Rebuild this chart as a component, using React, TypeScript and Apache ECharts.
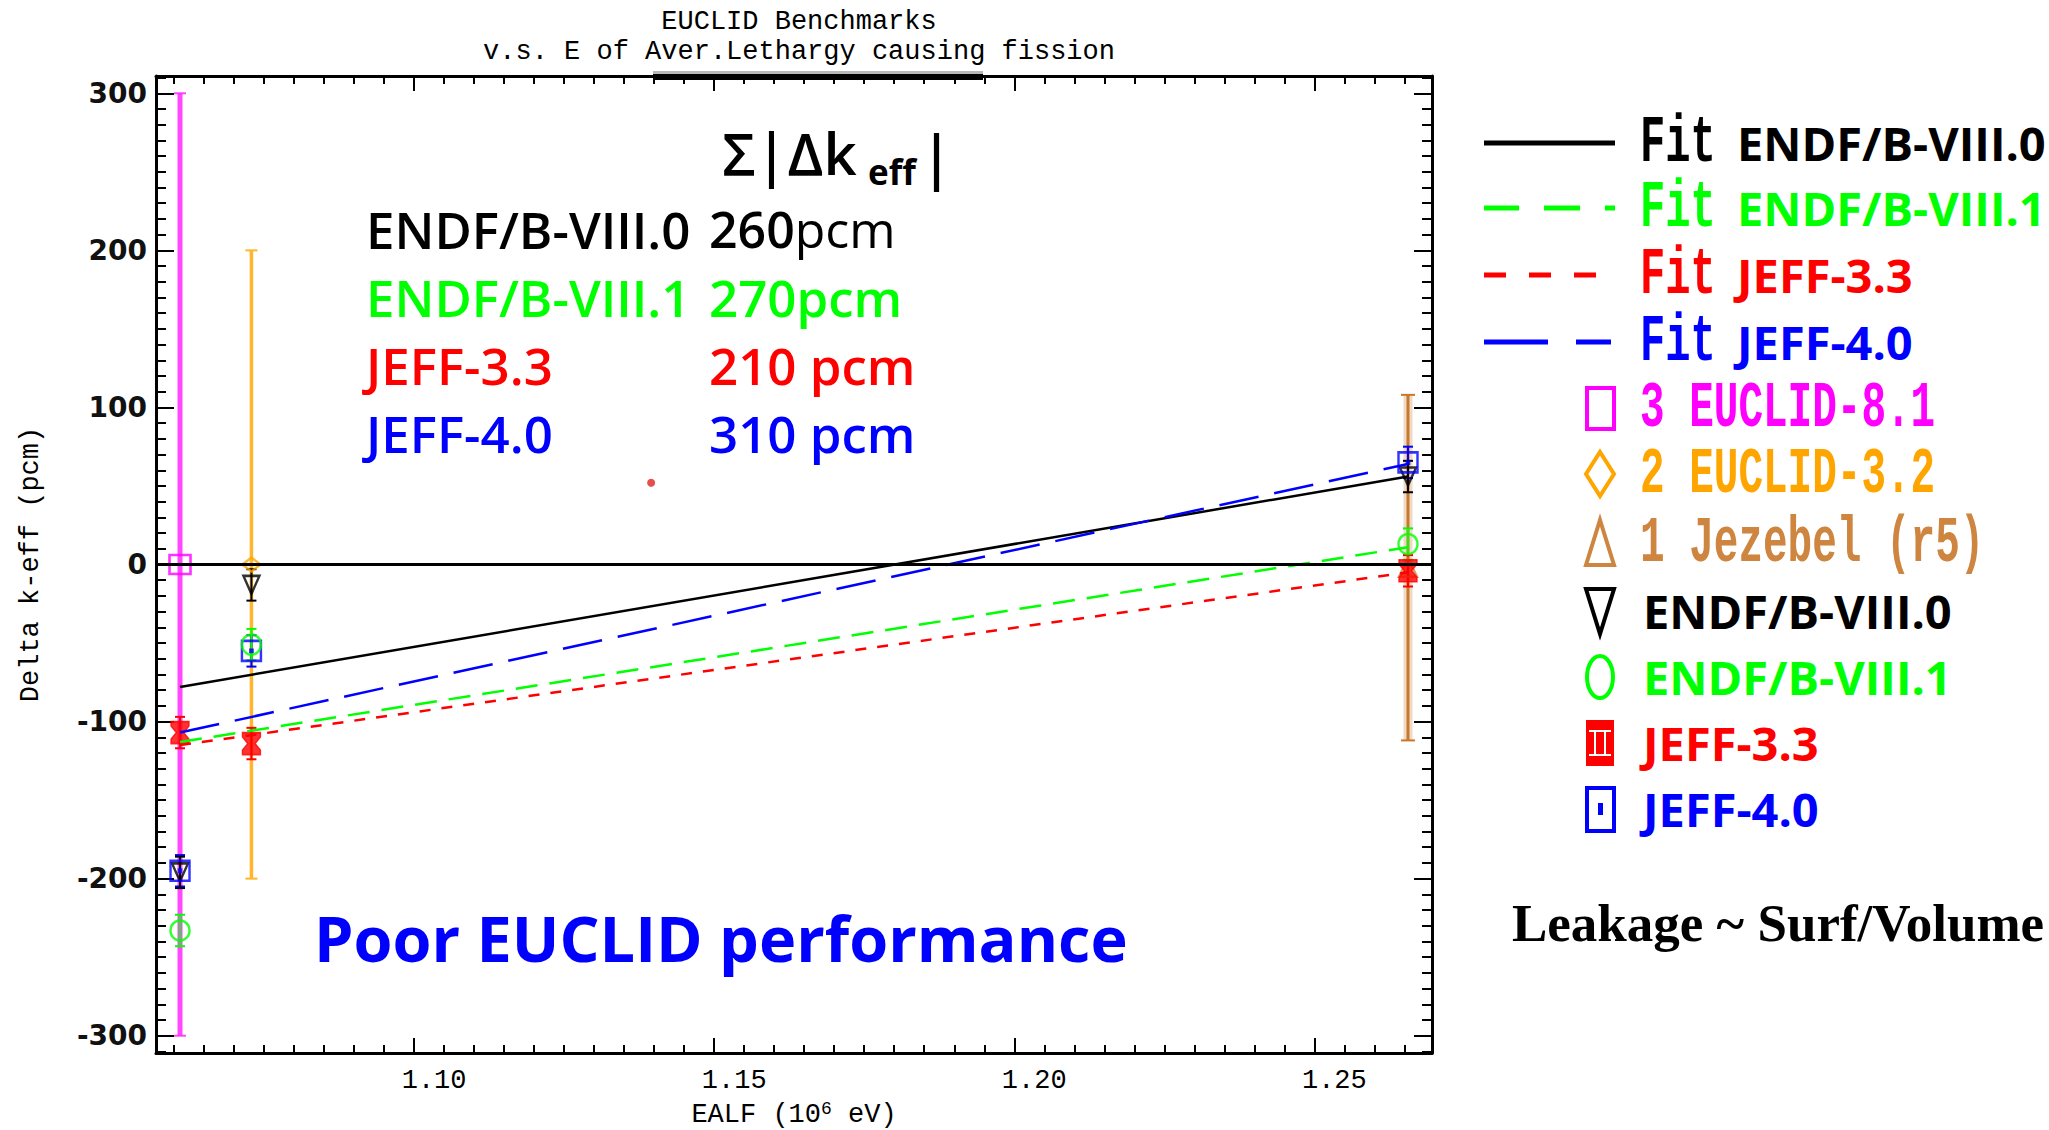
import React, { useEffect, useRef } from 'react';
import * as echarts from 'echarts';

// ---------------- data ----------------
const libNames = ['ENDF/B-VIII.0', 'ENDF/B-VIII.1', 'JEFF-3.3', 'JEFF-4.0'];
const benchNames = ['3 EUCLID-8.1', '2 EUCLID-3.2', '1 Jezebel (r5)'];
const benchEalf = [1.061, 1.0729, 1.2656];
const benchDelta = [0, 0, -2];
const benchUnc = [300, 200, 110];
const endf80Delta = [-196, -13, 56];
const endf81Delta = [-233, -51, 13];
const jeff33Delta = [-107, -114, -4];
const jeff40Delta = [-195, -55, 65];
const libUnc = [10, 10, 10];
const fitEalf = [1.061, 1.2656];
const fitEndf80 = [-78, 56];
const fitEndf81 = [-113, 11];
const fitJeff33 = [-115, -5];
const fitJeff40 = [-107, 64];
const strayPoint = [1.1395, 52];
const sumAbsDk = ['260pcm', '270pcm', '210 pcm', '310 pcm'];
const xTickValues = [1.1, 1.15, 1.2, 1.25];
const yTickValues = [-300, -200, -100, 0, 100, 200, 300];

// ---------------- axis extents / styles ----------------
const X_MIN = 1.057;
const X_MAX = 1.2696;
const Y_MIN = -311;
const Y_MAX = 311;

const xMinor: number[] = [];
for (let k = 212; k <= 253; k++) if (k % 10 !== 0) xMinor.push(+(k * 0.005).toFixed(3));
const yMinor: number[] = [];
for (let k = -31; k <= 31; k++) if (k % 10 !== 0) yMinor.push(k * 10);

const libColors = ['#000000', '#00ff00', '#ff0000', '#0000ff'];
const benchColors = ['#ff00ff', '#ffa500', '#cd853f'];
const MONO = 'Liberation Mono';
const SANS = 'Open Sans';

function pairs(xs: number[], ys: number[]) {
  return xs.map((x, i) => [x, ys[i]]);
}

function errorBars(name: string, xs: number[], ys: number[], errs: number[], color: string, width: number, capHalf: number, halo?: { color: string; width: number }) {
  return {
    type: 'custom',
    name,
    silent: true,
    data: xs.map((x, i) => [x, ys[i] - errs[i], ys[i] + errs[i]]),
    encode: { x: 0, y: [1, 2] },
    renderItem: (params: any, api: any) => {
      const x = api.value(0);
      const lo = api.coord([x, api.value(1)]);
      const hi = api.coord([x, api.value(2)]);
      const children: any[] = [];
      if (halo) {
        children.push({ type: 'line', shape: { x1: lo[0], y1: lo[1], x2: hi[0], y2: hi[1] }, style: { stroke: halo.color, lineWidth: halo.width } });
      }
      children.push({ type: 'line', shape: { x1: lo[0], y1: lo[1], x2: hi[0], y2: hi[1] }, style: { stroke: color, lineWidth: width } });
      children.push({ type: 'line', shape: { x1: hi[0] - capHalf, y1: hi[1], x2: hi[0] + capHalf, y2: hi[1] }, style: { stroke: color, lineWidth: 2 } });
      children.push({ type: 'line', shape: { x1: lo[0] - capHalf, y1: lo[1], x2: lo[0] + capHalf, y2: lo[1] }, style: { stroke: color, lineWidth: 2 } });
      return { type: 'group', children };
    },
  };
}

function fitLine(name: string, ys: number[], color: string, type: any, width: number, extra: any = {}) {
  return {
    type: 'line',
    name,
    silent: true,
    data: pairs(fitEalf, ys),
    showSymbol: false,
    symbol: 'none',
    lineStyle: { color, width, type },
    ...extra,
  };
}

const HOURGLASS = 'path://M0,0L10,0L10,2L7,5L10,8L10,10L0,10L0,8L3,5L0,2Z';
const SQDOT = 'path://M0,0L10,0L10,10L0,10Z M4.4,4.4L5.6,4.4L5.6,5.6L4.4,5.6Z';
const DOWNTRI = 'path://M0,0L10,0L5,10Z';

function xAxisDef(position: 'top' | 'bottom', ticks: number[], len: number, main: boolean) {
  return {
    type: 'value',
    position,
    min: X_MIN,
    max: X_MAX,
    axisLine: { show: main, onZero: false, lineStyle: { color: '#000', width: 3 } },
    axisTick: { show: true, inside: true, length: len, customValues: ticks, lineStyle: { color: '#000', width: 2 } },
    axisLabel: main && position === 'bottom'
      ? { show: true, customValues: xTickValues, formatter: (v: number) => v.toFixed(2), fontFamily: MONO, fontSize: 27, color: '#000', margin: 14, padding: [0, 0, 0, 40] }
      : { show: false },
    splitLine: { show: false },
    ...(main && position === 'bottom'
      ? {
          name: 'EALF (10{sup|6} eV)',
          nameLocation: 'middle',
          nameGap: 47,
          nameTextStyle: { fontFamily: MONO, fontSize: 27, color: '#000', rich: { sup: { fontFamily: MONO, fontSize: 18, color: '#000', verticalAlign: 'top', padding: [0, 0, 12, 0] } } },
        }
      : {}),
  };
}

function yAxisDef(position: 'left' | 'right', ticks: number[], len: number, main: boolean) {
  return {
    type: 'value',
    position,
    min: Y_MIN,
    max: Y_MAX,
    axisLine: { show: main, onZero: false, lineStyle: { color: '#000', width: 3 } },
    axisTick: { show: true, inside: true, length: len, customValues: ticks, lineStyle: { color: '#000', width: 2 } },
    axisLabel: main && position === 'left'
      ? { show: true, customValues: yTickValues, fontFamily: 'DejaVu Sans', fontWeight: 'bold', fontSize: 28, color: '#111', margin: 9 }
      : { show: false },
    splitLine: { show: false },
    ...(main && position === 'left'
      ? { name: 'Delta k-eff (pcm)', nameLocation: 'middle', nameRotate: 90, nameGap: 112, nameTextStyle: { fontFamily: MONO, fontSize: 27, color: '#000' } }
      : {}),
  };
}

function txt(x: number, y: number, text: string, fill: string, fontSize: number, fontFamily: string, fontWeight: any = 'normal', extra: any = {}, lineHeight?: number) {
  return {
    type: 'text',
    x,
    y,
    silent: true,
    ...extra,
    style: {
      x: 0,
      y: 0,
      text,
      fill,
      fontSize,
      fontFamily,
      fontWeight,
      lineHeight: lineHeight || Math.round(fontSize * 1.2),
      align: 'left',
      textAlign: 'left',
      verticalAlign: 'middle',
      textVerticalAlign: 'middle',
    },
  };
}

function buildGraphics() {
  const els: any[] = [];
  // thick segment on top frame
  els.push({ type: 'rect', silent: true, shape: { x: 653, y: 71, width: 330, height: 4 }, style: { fill: '#b8b8b8' } });
  els.push({ type: 'rect', silent: true, shape: { x: 653, y: 74, width: 330, height: 6 }, style: { fill: '#000' } });

  // Sum |dk_eff| header
  els.push(txt(722, 152, 'Σ|Δk', '#000', 58, SANS, 600, {}, 56));
  els.push(txt(868, 171, 'eff', '#000', 35, SANS, 'bold', {}, 28));
  els.push(txt(920, 155, '|', '#000', 60, SANS, 600, {}, 56));

  // table
  const rowY = [229, 297, 365, 433];
  libNames.forEach((n, i) => {
    els.push(txt(366, rowY[i], n, libColors[i], 51, SANS, 600, {}, 46));
    if (i === 0) {
      const num = sumAbsDk[i].replace('pcm', '');
      els.push({
        type: 'text', x: 709, y: rowY[i], silent: true,
        style: {
          text: `{b|${num}}{r|pcm}`, verticalAlign: 'middle', textVerticalAlign: 'middle',
          rich: {
            b: { fontFamily: SANS, fontSize: 50, fontWeight: 600, fill: libColors[i], lineHeight: 46 },
            r: { fontFamily: SANS, fontSize: 50, fontWeight: 'normal', fill: libColors[i], lineHeight: 46 },
          },
        },
      });
    } else {
      els.push(txt(709, rowY[i], sumAbsDk[i], libColors[i], 51, SANS, 600, {}, 46));
    }
  });
  // Poor EUCLID performance
  els.push(txt(314, 937, 'Poor EUCLID performance', '#0000ff', 63, SANS, 'bold'));

  // legend: fit lines
  const legY = [143, 208, 275, 342, 408, 474, 543, 611, 677, 743, 809];
  const legDash: any[] = [null, [35, 25, 36, 25, 10, 30], [22, 23], [64, 28, 35, 28]];
  libNames.forEach((n, i) => {
    els.push({
      type: 'line', silent: true,
      shape: { x1: 1484, y1: legY[i], x2: 1615, y2: legY[i] },
      style: { stroke: libColors[i], lineWidth: 5, lineDash: legDash[i] || undefined },
    });
    els.push(txt(1640, legY[i], 'Fit', libColors[i], 42, MONO, 'bold', { scaleY: 1.6 }, 36));
    els.push(txt(1737, legY[i], n, libColors[i], 47, SANS, 'bold', {}, 50));
  });
  // legend: benchmarks
  benchNames.forEach((n, i) => {
    els.push(txt(1640, legY[4 + i], n, benchColors[i], 41, MONO, 'bold', { scaleY: 1.6 }, 36));
  });
  const c = 1600;
  els.push({ type: 'rect', silent: true, shape: { x: 1587, y: legY[4] - 20, width: 27, height: 41 }, style: { fill: 'none', stroke: benchColors[0], lineWidth: 4 } });
  els.push({ type: 'polygon', silent: true, shape: { points: [[c, legY[5] - 22], [c + 14, legY[5]], [c, legY[5] + 22], [c - 14, legY[5]]] }, style: { fill: 'none', stroke: benchColors[1], lineWidth: 4 } });
  els.push({ type: 'polygon', silent: true, shape: { points: [[c, legY[6] - 23], [c + 14, legY[6] + 22], [c - 14, legY[6] + 22]] }, style: { fill: 'none', stroke: benchColors[2], lineWidth: 4 } });
  // legend: library symbols
  els.push({ type: 'polygon', silent: true, shape: { points: [[c - 14, legY[7] - 22], [c + 14, legY[7] - 22], [c, legY[7] + 23]] }, style: { fill: 'none', stroke: libColors[0], lineWidth: 4 } });
  els.push({ type: 'ellipse', silent: true, shape: { cx: c, cy: legY[8], rx: 13, ry: 21 }, style: { fill: 'none', stroke: libColors[1], lineWidth: 4 } });
  els.push({ type: 'rect', silent: true, shape: { x: 1586, y: legY[9] - 23, width: 28, height: 46 }, style: { fill: libColors[2] } });
  els.push({ type: 'line', silent: true, shape: { x1: 1589, y1: legY[9] - 12, x2: 1611, y2: legY[9] - 12 }, style: { stroke: '#fff', lineWidth: 2 } });
  els.push({ type: 'line', silent: true, shape: { x1: 1589, y1: legY[9] + 12, x2: 1611, y2: legY[9] + 12 }, style: { stroke: '#fff', lineWidth: 2 } });
  els.push({ type: 'line', silent: true, shape: { x1: 1595, y1: legY[9] - 12, x2: 1595, y2: legY[9] + 12 }, style: { stroke: '#fff', lineWidth: 2 } });
  els.push({ type: 'line', silent: true, shape: { x1: 1605, y1: legY[9] - 12, x2: 1605, y2: legY[9] + 12 }, style: { stroke: '#fff', lineWidth: 2 } });
  els.push({ type: 'rect', silent: true, shape: { x: 1587, y: legY[10] - 21, width: 27, height: 43 }, style: { fill: 'none', stroke: libColors[3], lineWidth: 4 } });
  els.push({ type: 'rect', silent: true, shape: { x: 1598, y: legY[10] - 6, width: 5, height: 12 }, style: { fill: libColors[3] } });
  libNames.forEach((n, i) => {
    els.push(txt(1643, legY[7 + i], n, libColors[i], 47, SANS, 'bold', {}, 50));
  });

  els.push(txt(1512, 923, 'Leakage ~ Surf/Volume', '#000', 53, 'Liberation Serif', 'bold'));
  return els;
}

function buildOption() {
  const libSeries = (name: string, ys: number[], color: string, symbol: string, size: any, hollow: boolean) => ({
    type: 'scatter',
    name,
    silent: true,
    data: pairs(benchEalf, ys),
    symbol,
    symbolSize: size,
    itemStyle: hollow ? { color: 'none', borderColor: color, borderWidth: 2.5 } : { color, borderColor: color, borderWidth: 1.5 },
  });
  return {
    animation: false,
    backgroundColor: '#ffffff',
    title: {
      text: 'EUCLID Benchmarks',
      subtext: 'v.s. E of Aver.Lethargy causing fission',
      left: 794,
      top: 2,
      textAlign: 'center',
      itemGap: 0,
      textStyle: { fontFamily: MONO, fontSize: 27, fontWeight: 'normal', color: '#000', lineHeight: 30 },
      subtextStyle: { fontFamily: MONO, fontSize: 27, fontWeight: 'normal', color: '#000', lineHeight: 30 },
    },
    grid: { left: 156, top: 76, width: 1276, height: 977, containLabel: false, outerBoundsMode: 'none' },
    xAxis: [
      xAxisDef('bottom', xTickValues, 15, true),
      xAxisDef('bottom', xMinor, 8, false),
      xAxisDef('top', xTickValues, 15, true),
      xAxisDef('top', xMinor, 8, false),
    ],
    yAxis: [
      yAxisDef('left', yTickValues, 18, true),
      yAxisDef('left', yMinor, 10, false),
      yAxisDef('right', yTickValues, 18, true),
      yAxisDef('right', yMinor, 10, false),
    ],
    series: [
      fitLine('Fit ' + libNames[0], fitEndf80, libColors[0], 'solid', 2.5, {
        markLine: { silent: true, symbol: 'none', label: { show: false }, lineStyle: { color: '#000', width: 3, type: 'solid' }, data: [{ yAxis: 0 }] },
      }),
      fitLine('Fit ' + libNames[1], fitEndf81, libColors[1], [22, 12], 2.5),
      fitLine('Fit ' + libNames[2], fitJeff33, libColors[2], [11, 11], 2.5),
      fitLine('Fit ' + libNames[3], fitJeff40, libColors[3], [40, 16], 2.5),
      errorBars(benchNames[0], [benchEalf[0]], [benchDelta[0]], [benchUnc[0]], 'rgba(255,40,255,0.85)', 5, 6),
      errorBars(benchNames[1], [benchEalf[1]], [benchDelta[1]], [benchUnc[1]], '#ffb52e', 3.5, 6),
      errorBars(benchNames[2], [benchEalf[2]], [benchDelta[2]], [benchUnc[2]], '#c8772e', 3, 7, { color: 'rgba(205,133,63,0.3)', width: 9 }),
      { type: 'scatter', name: benchNames[0], silent: true, data: [[benchEalf[0], benchDelta[0]]], symbol: 'rect', symbolSize: [21, 19], itemStyle: { color: 'none', borderColor: benchColors[0], borderWidth: 2.5 } },
      { type: 'scatter', name: benchNames[1], silent: true, data: [[benchEalf[1], benchDelta[1]]], symbol: 'diamond', symbolSize: [18, 14], itemStyle: { color: 'none', borderColor: benchColors[1], borderWidth: 2.5 } },
      { type: 'scatter', name: benchNames[2], silent: true, data: [[benchEalf[2], benchDelta[2]]], symbol: 'triangle', symbolSize: [18, 18], itemStyle: { color: 'none', borderColor: benchColors[2], borderWidth: 2.5 } },
      errorBars(libNames[3] + ' unc', benchEalf, jeff40Delta, libUnc, libColors[3], 2, 5),
      errorBars(libNames[0] + ' unc', benchEalf, endf80Delta, libUnc, libColors[0], 2, 5),
      errorBars(libNames[1] + ' unc', benchEalf, endf81Delta, libUnc, libColors[1], 2, 5),
      errorBars(libNames[2] + ' unc', benchEalf, jeff33Delta, libUnc, libColors[2], 2, 5),
      libSeries(libNames[0], endf80Delta, libColors[0], DOWNTRI, [16, 18], true),
      libSeries(libNames[3], jeff40Delta, libColors[3], SQDOT, [19, 20], true),
      libSeries(libNames[1], endf81Delta, libColors[1], 'circle', [19, 20], true),
      libSeries(libNames[2], jeff33Delta, libColors[2], HOURGLASS, [18, 22], false),
      { type: 'scatter', name: 'JEFF-3.3 point', silent: true, data: [strayPoint], symbol: 'circle', symbolSize: 8, itemStyle: { color: '#e02020' } },
    ],
    graphic: { elements: buildGraphics() },
  };
}

export default function App() {
  const ref = useRef<HTMLDivElement>(null);
  useEffect(() => {
    if (!ref.current) return;
    const chart = echarts.init(ref.current, null, { renderer: 'svg' });
    chart.setOption(buildOption() as any);
    return () => chart.dispose();
  }, []);
  return (
    <div
      ref={ref}
      style={{ position: 'absolute', left: 0, top: 0, width: 2049, height: 1130, background: '#fff' }}
    />
  );
}
